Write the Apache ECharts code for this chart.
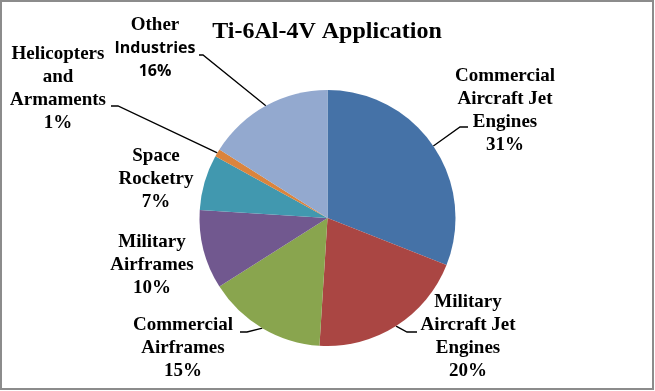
<!DOCTYPE html>
<html>
<head>
<meta charset="utf-8">
<script src="https://cdn.jsdelivr.net/npm/echarts@6/dist/echarts.min.js"></script>
<style>
html,body{margin:0;padding:0;background:#fff;}
#c{width:655px;height:391px;}
</style>
</head>
<body>
<div id="c"></div>
<script>
// ---- data ----
var categories = [
  'Commercial\nAircraft Jet\nEngines',
  'Military\nAircraft Jet\nEngines',
  'Commercial\nAirframes',
  'Military\nAirframes',
  'Space\nRocketry',
  'Helicopters\nand\nArmaments',
  'Other\nIndustries'
];
var values = [31, 20, 15, 10, 7, 1, 16];
var titleText = 'Ti-6Al-4V Application';

// ---- styling / layout ----
var colors = ['#4572A7', '#AA4643', '#89A54E', '#71588F', '#4198AF', '#DB843D', '#93A9CF'];
var CX = 327.5, CY = 218, R = 128;
var labelPos = [[505, 111], [468, 337], [183, 348], [152, 265], [156, 179], [58, 89], [155, 48]];
// leader line: [bend point, end point] or null
var leader = [
  [[460, 127], [468, 127]],
  [[407, 332], [417, 332]],
  [[247, 332], [240, 332]],
  null,
  null,
  [[118, 106], [111, 106]],
  [[203, 55], [199, 55]]
];
var serif = "'Liberation Serif','Times New Roman',serif";
var sans = "'Open Sans','Liberation Sans',sans-serif";

var total = values.reduce(function (a, b) { return a + b; }, 0);
function edgePoint(i) {
  var before = 0;
  for (var k = 0; k < i; k++) before += values[k];
  var mid = (before + values[i] / 2) / total * Math.PI * 2;
  return [CX + R * Math.sin(mid), CY - R * Math.cos(mid)];
}

var data = categories.map(function (n, i) {
  return {
    name: n,
    value: values[i],
    itemStyle: { color: colors[i] },
    labelLine: { show: !!leader[i] }
  };
});

var chart = echarts.init(document.getElementById('c'), null, { renderer: 'canvas' });
chart.setOption({
  animation: false,
  backgroundColor: '#fff',
  title: {
    text: titleText,
    left: 327, top: 20,
    padding: 0,
    textAlign: 'center',
    textStyle: { fontFamily: serif, fontSize: 24, fontWeight: 'bold', color: '#000', lineHeight: 24 }
  },
  graphic: [{
    type: 'rect', silent: true, z: 100,
    shape: { x: 1, y: 1, width: 652, height: 388 },
    style: { fill: 'none', stroke: '#8c8c8c', lineWidth: 2 }
  }],
  series: [{
    type: 'pie',
    center: [CX, CY],
    radius: R,
    startAngle: 90,
    clockwise: true,
    avoidLabelOverlap: false,
    itemStyle: { borderWidth: 0 },
    emphasis: { disabled: true },
    data: data,
    label: {
      show: true,
      position: 'outside',
      color: '#000',
      fontFamily: serif,
      fontSize: 19,
      fontWeight: 'bold',
      lineHeight: 23,
      align: 'center',
      formatter: function (p) {
        var lines = p.name.split('\n');
        if (p.dataIndex === 6) {
          return '{s|' + lines[0] + '}\n{c|' + lines.slice(1).join('}\n{c|') + '}\n{c|' + p.value + '%}';
        }
        return lines.map(function (l) { return '{s|' + l + '}'; }).join('\n') + '\n{s|' + p.value + '%}';
      },
      rich: {
        s: { fontFamily: serif, fontSize: 19, fontWeight: 'bold', lineHeight: 23, color: '#000' },
        c: { fontFamily: sans, fontSize: 16, fontWeight: 'bold', lineHeight: 23, color: '#000' }
      }
    },
    labelLine: {
      show: true,
      lineStyle: { color: '#000', width: 1.3 },
      smooth: false
    },
    labelLayout: function (params) {
      var i = params.dataIndex;
      var res = {
        x: labelPos[i][0],
        y: labelPos[i][1],
        align: 'center',
        verticalAlign: 'middle'
      };
      if (leader[i]) {
        res.labelLinePoints = [edgePoint(i), leader[i][0], leader[i][1]];
      }
      return res;
    }
  }]
});
</script>
</body>
</html>
